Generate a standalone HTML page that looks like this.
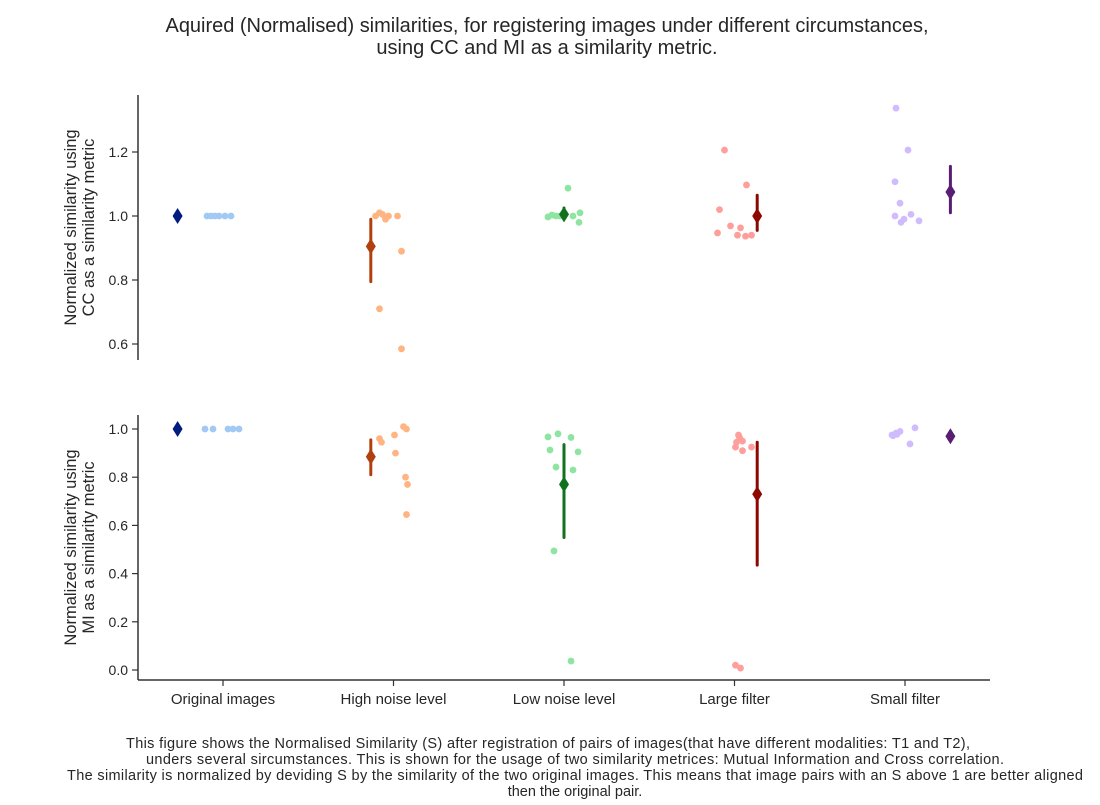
<!DOCTYPE html>
<html><head><meta charset="utf-8"><style>
body{margin:0;background:#fff;font-family:"Liberation Sans",sans-serif;}
svg text{font-family:"Liberation Sans",sans-serif;fill:#262626;}
</style></head><body>
<svg id="c" width="1100" height="800" xmlns="http://www.w3.org/2000/svg">
<text x="547" y="32" font-size="20" text-anchor="middle" textLength="763">Aquired (Normalised) similarities, for registering images under different circumstances,</text>
<text x="547" y="54" font-size="20" text-anchor="middle">using CC and MI as a similarity metric.</text>
<g font-size="14.5" text-anchor="middle">
<text x="548" y="748" textLength="844">This figure shows the Normalised Similarity (S) after registration of pairs of images(that have different modalities: T1 and T2),</text>
<text x="575" y="764" textLength="858">unders several sircumstances. This is shown for the usage of two similarity metrices: Mutual Information and Cross correlation.</text>
<text x="575" y="780" textLength="1016">The similarity is normalized by deviding S by the similarity of the two original images. This means that image pairs with an S above 1 are better aligned</text>
<text x="575" y="796">then the original pair.</text>
</g>
</svg>
<script>
const categories=["Original images","High noise level","Low noise level","Large filter","Small filter"];
const ccValues=[[1,1,1,1,1,1],[1.0,1.01,1.005,0.99,1.0,1.0,0.89,0.71,0.585],[0.997,1.003,1.0,1.087,1.01,0.98,1.0,1.0],[1.206,1.097,1.02,0.947,0.969,0.963,0.94,0.937,0.94],[1.337,1.206,1.107,1.04,1.0,1.005,0.98,0.99,0.985]];
const ccJitter=[[-16,-12,-8,-4,2,8],[-18,-14,-11,-8,-5,4,8,-14,8],[-16,-12,-8,4,16,15,9,-4],[-10,12,-15,-17,-4,6,3,11,17],[-9,3,-10,-5,-10,6,-4,-1,14]];
const ccMean=[1.0,0.905,1.005,1.0,1.075];
const ccLo=[1.0,0.795,0.99,0.955,1.01];
const ccHi=[1.0,0.99,1.025,1.065,1.155];
const miValues=[[1,1,1,1,1],[1.01,1.0,0.96,0.945,0.975,0.9,0.8,0.77,0.645],[0.967,0.98,0.965,0.913,0.905,0.842,0.83,0.494,0.037],[0.975,0.965,0.95,0.945,0.925,0.91,0.925,0.02,0.008],[0.975,0.983,0.99,1.005,0.938,0.972,0.978]];
const miJitter=[[-18,-10,5,10,16],[10,13,-14,-12,1,2,12,14,13],[-16,-6,7,-14,14,-8,9,-10,7],[4,5,8,2,1,8,17,1,6],[-13,-9,-5,10,5,-12,-8]];
const miMean=[1.0,0.885,0.77,0.73,0.97];
const miLo=[1.0,0.81,0.55,0.435,0.965];
const miHi=[1.0,0.955,0.935,0.945,0.975];
const ccTicks=[0.6,0.8,1.0,1.2];
const miTicks=[0.0,0.2,0.4,0.6,0.8,1.0];
const light=["#a1c9f4","#ffb482","#8de5a1","#ff9f9b","#d0bbff"];
const dark=["#001c7f","#b1400d","#12711c","#8c0800","#591e71"];
const svg=document.getElementById('c');
const NS="http://www.w3.org/2000/svg";
function mk(t,a){const e=document.createElementNS(NS,t);for(const k in a)e.setAttribute(k,a[k]);svg.appendChild(e);return e;}
const xL=138,xR=990;
function xc(i){return 223+i*170.5;}
function panel(vals,jit,mean,lo,hi,ticks,y0,y1,v0,v1,spineTop,spineBot,lab1,lab2,id,bottomAxis){
  const ys=v=>y0+(v-v0)*(y1-y0)/(v1-v0);
  let e=mk('line',{x1:xL,x2:xL,y1:spineTop,y2:spineBot,stroke:'#333',"stroke-width":1.5});
  
  
  ticks.forEach(t=>{
    const y=ys(t);
    let l=mk('line',{x1:xL-6,x2:xL,y1:y,y2:y,stroke:'#333',"stroke-width":1.2});
    
    
    let tx=mk('text',{x:xL-10,y:y+5,"font-size":14,"text-anchor":"end"});
    tx.textContent=t.toFixed(1);
    
    
  });
  const cy=(spineTop+spineBot)/2;
  let g=mk('text',{transform:`translate(76,${cy}) rotate(-90)`,"font-size":16.5,"text-anchor":"middle"});
  
  
  const t1=document.createElementNS(NS,'tspan');t1.setAttribute('x',0);t1.setAttribute('y',0);t1.textContent=lab1;g.appendChild(t1);
  const t2=document.createElementNS(NS,'tspan');t2.setAttribute('x',0);t2.setAttribute('y',18);t2.textContent=lab2;g.appendChild(t2);
  vals.forEach((arr,i)=>{
    arr.forEach((v,j)=>{
      let c=mk('circle',{cx:xc(i)+jit[i][j],cy:ys(v),r:3.4,fill:light[i]});
      
      
    });
    const dx=xc(i)+(i-2)*22.7;
    let l=mk('line',{x1:dx,x2:dx,y1:ys(lo[i]),y2:ys(hi[i]),stroke:dark[i],"stroke-width":3,"stroke-linecap":"round"});
    
    
    const my=ys(mean[i]);
    let p=mk('path',{d:`M${dx},${my-8}L${dx+5},${my}L${dx},${my+8}L${dx-5},${my}Z`,fill:dark[i]});
    
    
  });
  if(bottomAxis){
    let b=mk('line',{x1:xL,x2:xR,y1:spineBot,y2:spineBot,stroke:'#333',"stroke-width":1.5});
    
    
    categories.forEach((c,i)=>{
      let l=mk('line',{x1:xc(i),x2:xc(i),y1:spineBot,y2:spineBot+6,stroke:'#333',"stroke-width":1.2});
      
      
      let t=mk('text',{x:xc(i),y:spineBot+24,"font-size":15,"text-anchor":"middle"});
      t.textContent=c;
      
      
    });
  }
}
panel(ccValues,ccJitter,ccMean,ccLo,ccHi,ccTicks,216,152,1.0,1.2,95,360,"Normalized similarity using","CC as a similarity metric","cc",false);
panel(miValues,miJitter,miMean,miLo,miHi,miTicks,670,429,0,1,415,680,"Normalized similarity using","MI as a similarity metric","mi",true);
</script>
</body></html>
